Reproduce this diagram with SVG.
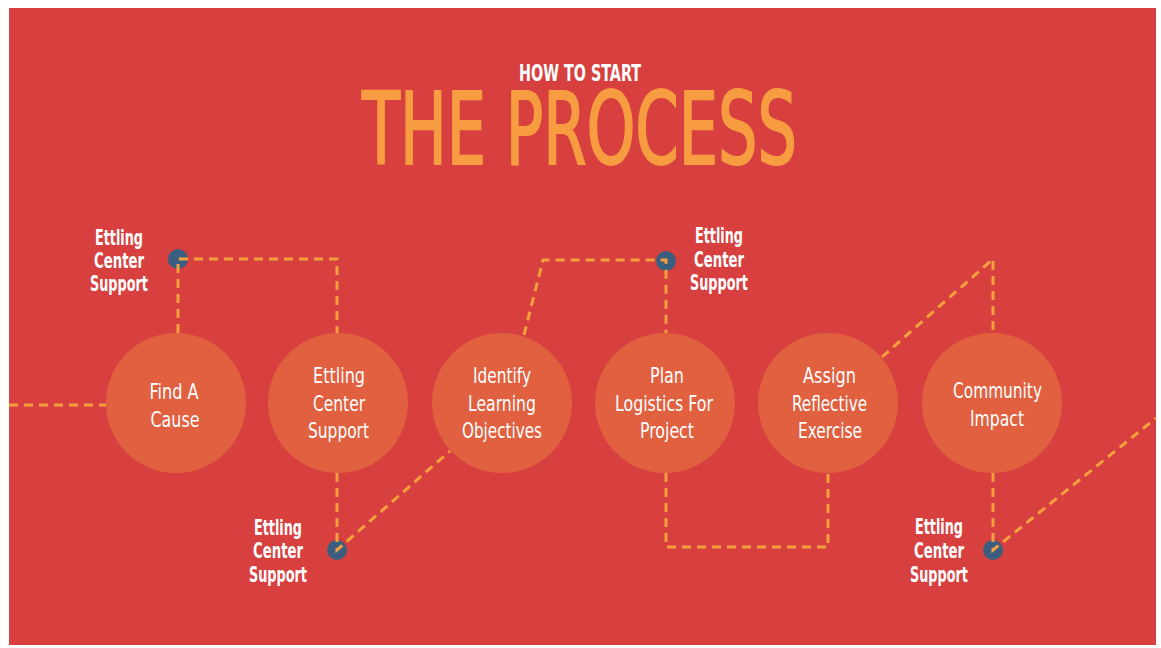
<svg xmlns="http://www.w3.org/2000/svg" width="1161" height="648" viewBox="0 0 1161 648">
  <style>
    .bg { fill: #D83F3F; }
    .step { fill: #E0603F; }
    .dot { fill: #3A5E80; }
    .conn { fill: none; stroke: #F5A03C; stroke-width: 3; stroke-dasharray: 9 6; stroke-linejoin: miter; }
    .lbl { font-family: "Liberation Sans Narrow", "DejaVu Sans Condensed", "Liberation Sans", sans-serif; font-size: 22px; fill: #FFFFFF; text-anchor: middle; }
    .side { font-family: "Liberation Sans Narrow", "DejaVu Sans Condensed", "Liberation Sans", sans-serif; font-size: 21px; font-weight: bold; fill: #FFFFFF; text-anchor: middle; }
    .sub { font-family: "Liberation Sans Narrow", "DejaVu Sans Condensed", "Liberation Sans", sans-serif; font-size: 23px; font-weight: bold; fill: #FFFFFF; text-anchor: middle; }
    .title { font-family: "Liberation Sans Narrow", "DejaVu Sans Condensed", "Liberation Sans", sans-serif; font-size: 100px; font-weight: normal; fill: #F79C40; stroke: #F79C40; stroke-width: 2; text-anchor: middle; }
  </style>
  <rect width="1161" height="648" fill="#FFFFFF"/>
  <rect class="bg" x="9" y="8" width="1147" height="637"/>

  <g id="heading">
    <text class="sub" x="580" y="81" textLength="122" lengthAdjust="spacingAndGlyphs">HOW TO START</text>
    <text class="title" x="579.5" y="164" textLength="435" lengthAdjust="spacingAndGlyphs">THE PROCESS</text>
  </g>

  <g id="support-1">
    <circle class="dot" cx="178" cy="259" r="10"/>
    <text class="side" x="119" y="245" textLength="48" lengthAdjust="spacingAndGlyphs">Ettling</text>
    <text class="side" x="119" y="268" textLength="50" lengthAdjust="spacingAndGlyphs">Center</text>
    <text class="side" x="119" y="291" textLength="58" lengthAdjust="spacingAndGlyphs">Support</text>
  </g>
  <g id="support-2">
    <circle class="dot" cx="337" cy="550" r="10"/>
    <text class="side" x="278" y="535" textLength="48" lengthAdjust="spacingAndGlyphs">Ettling</text>
    <text class="side" x="278" y="558" textLength="50" lengthAdjust="spacingAndGlyphs">Center</text>
    <text class="side" x="278" y="582" textLength="58" lengthAdjust="spacingAndGlyphs">Support</text>
  </g>
  <g id="support-3">
    <circle class="dot" cx="666" cy="261" r="10"/>
    <text class="side" x="719" y="243" textLength="48" lengthAdjust="spacingAndGlyphs">Ettling</text>
    <text class="side" x="719" y="267" textLength="50" lengthAdjust="spacingAndGlyphs">Center</text>
    <text class="side" x="719" y="290" textLength="58" lengthAdjust="spacingAndGlyphs">Support</text>
  </g>
  <g id="support-4">
    <circle class="dot" cx="993" cy="550" r="10"/>
    <text class="side" x="939" y="534" textLength="48" lengthAdjust="spacingAndGlyphs">Ettling</text>
    <text class="side" x="939" y="558" textLength="50" lengthAdjust="spacingAndGlyphs">Center</text>
    <text class="side" x="939" y="582" textLength="58" lengthAdjust="spacingAndGlyphs">Support</text>
  </g>

  <g id="connectors">
    <path class="conn" d="M9 405 H106"/>
    <path class="conn" d="M178 333 V259 H337 V333"/>
    <path class="conn" d="M337 473 V550 L450 451"/>
    <path class="conn" d="M524 335 L543 260 H666 V333"/>
    <path class="conn" d="M666 473 V547 H828 V473"/>
    <path class="conn" d="M882 357 L993 259 V333"/>
    <path class="conn" d="M993 473 V550 L1156 418"/>
  </g>

  <g id="step-1">
    <circle class="step" cx="176" cy="403" r="70"/>
    <text class="lbl" x="174" y="399" textLength="49" lengthAdjust="spacingAndGlyphs">Find A</text>
    <text class="lbl" x="175" y="427" textLength="49" lengthAdjust="spacingAndGlyphs">Cause</text>
  </g>
  <g id="step-2">
    <circle class="step" cx="338" cy="403" r="70"/>
    <text class="lbl" x="339" y="383" textLength="52" lengthAdjust="spacingAndGlyphs">Ettling</text>
    <text class="lbl" x="339" y="411" textLength="52" lengthAdjust="spacingAndGlyphs">Center</text>
    <text class="lbl" x="338.5" y="438" textLength="61" lengthAdjust="spacingAndGlyphs">Support</text>
  </g>
  <g id="step-3">
    <circle class="step" cx="502" cy="403" r="70"/>
    <text class="lbl" x="502" y="383" textLength="58" lengthAdjust="spacingAndGlyphs">Identify</text>
    <text class="lbl" x="502" y="411" textLength="68" lengthAdjust="spacingAndGlyphs">Learning</text>
    <text class="lbl" x="502" y="438" textLength="80" lengthAdjust="spacingAndGlyphs">Objectives</text>
  </g>
  <g id="step-4">
    <circle class="step" cx="665" cy="403" r="70"/>
    <text class="lbl" x="667" y="383" textLength="34" lengthAdjust="spacingAndGlyphs">Plan</text>
    <text class="lbl" x="664" y="411" textLength="98" lengthAdjust="spacingAndGlyphs">Logistics For</text>
    <text class="lbl" x="667" y="438" textLength="54" lengthAdjust="spacingAndGlyphs">Project</text>
  </g>
  <g id="step-5">
    <circle class="step" cx="828" cy="403" r="70"/>
    <text class="lbl" x="829.5" y="383" textLength="53" lengthAdjust="spacingAndGlyphs">Assign</text>
    <text class="lbl" x="829.5" y="411" textLength="75" lengthAdjust="spacingAndGlyphs">Reflective</text>
    <text class="lbl" x="830" y="438" textLength="64" lengthAdjust="spacingAndGlyphs">Exercise</text>
  </g>
  <g id="step-6">
    <circle class="step" cx="992" cy="403" r="70"/>
    <text class="lbl" x="997.5" y="398" textLength="89" lengthAdjust="spacingAndGlyphs">Community</text>
    <text class="lbl" x="997" y="426" textLength="54" lengthAdjust="spacingAndGlyphs">Impact</text>
  </g>
</svg>
